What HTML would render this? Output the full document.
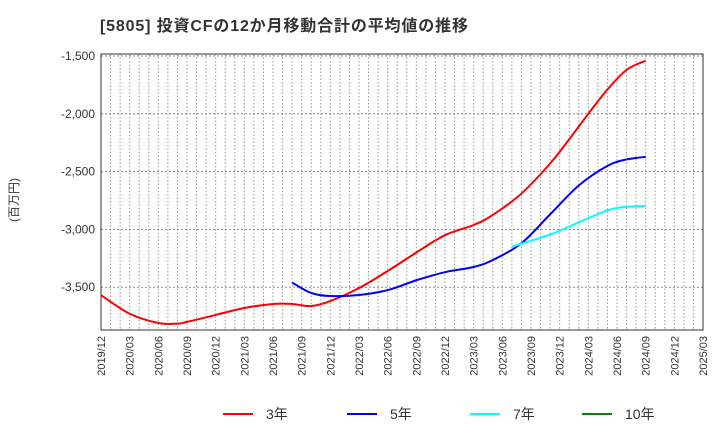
<!DOCTYPE html>
<html><head><meta charset="utf-8"><style>
body{margin:0;background:#fff;font-family:"Liberation Sans","Noto Sans CJK JP",sans-serif}
svg text{font-family:"Liberation Sans","Noto Sans CJK JP",sans-serif}
</style></head><body>
<svg id="c" width="720" height="440" xmlns="http://www.w3.org/2000/svg">
<text x="100" y="31" font-size="16" font-weight="bold" fill="#333" textLength="368" lengthAdjust="spacing">[5805]  投資CFの12か月移動合計の平均値の推移</text>
<text transform="translate(18,200) rotate(-90)" font-size="12" fill="#333" text-anchor="middle">(百万円)</text>
<g id="grid"></g><g id="series"></g><g id="axes"></g>
<g>
<line x1="223" y1="414" x2="253" y2="414" stroke="#f00" stroke-width="2"/><text x="266" y="419" font-size="14" fill="#333">3年</text>
<line x1="347" y1="414" x2="377" y2="414" stroke="#00f" stroke-width="2"/><text x="390" y="419" font-size="14" fill="#333">5年</text>
<line x1="470" y1="414" x2="500" y2="414" stroke="#0ff" stroke-width="2"/><text x="513" y="419" font-size="14" fill="#333">7年</text>
<line x1="582" y1="414" x2="612" y2="414" stroke="#080" stroke-width="2"/><text x="625" y="419" font-size="14" fill="#333">10年</text>
</g>
</svg>
<script>
const xLabels=["2019/12","2020/03","2020/06","2020/09","2020/12","2021/03","2021/06","2021/09","2021/12","2022/03","2022/06","2022/09","2022/12","2023/03","2023/06","2023/09","2023/12","2024/03","2024/06","2024/09","2024/12","2025/03"];
const yTicks=[-1500,-2000,-2500,-3000,-3500];
const m3=[0,3,6,8,9,12,15,18,20,22,24,27,30,33,36,39,41,44,47,49,51,53,55,57];
const v3=[-3569,-3730,-3810,-3815,-3800,-3740,-3680,-3645,-3645,-3663,-3620,-3507,-3360,-3200,-3050,-2962,-2875,-2690,-2430,-2220,-2000,-1790,-1620,-1541];
const m5=[20,22,24,27,30,33,36,39,41,44,47,50,53,55,57];
const v5=[-3460,-3550,-3576,-3567,-3525,-3440,-3370,-3325,-3265,-3120,-2870,-2620,-2450,-2395,-2373];
const m7=[43,47,49,53,55,57];
const v7=[-3150,-3045,-2975,-2835,-2805,-2797];
const L=101,R=703,T=54,B=330;
const X=m=>L+m*(R-L)/63;
const Y=v=>56+(-1500-v)/500*57.8;
const NS="http://www.w3.org/2000/svg";
function mk(t,a,p){const e=document.createElementNS(NS,t);for(const k in a)e.setAttribute(k,a[k]);p.appendChild(e);return e;}
const grid=document.getElementById('grid'),axes=document.getElementById('axes'),ser=document.getElementById('series');
for(let m=1;m<63;m++){const l=mk('line',{x1:X(m),x2:X(m),y1:T,y2:B,stroke:'#999','stroke-dasharray':'1.5,2','stroke-width':1},grid);

}
yTicks.forEach(v=>{const l=mk('line',{x1:L,x2:R,y1:Y(v),y2:Y(v),stroke:'#888','stroke-dasharray':'2,2'},grid);


const t=mk('text',{x:L-6,y:Y(v)+4,'font-size':12,'text-anchor':'end',fill:'#333'},axes);t.textContent=v.toLocaleString('en-US');

});
const box=mk('rect',{x:L,y:T,width:R-L,height:B-T,fill:'none',stroke:'#333'},axes);


xLabels.forEach((s,i)=>{const x=X(i*3);const t=mk('text',{transform:`translate(${x+4},${B+6}) rotate(-90)`,'font-size':11,'text-anchor':'end',fill:'#333'},axes);t.textContent=s;

});
function path(ms,vs){const p=ms.map((m,i)=>[X(m),Y(vs[i])]);let d=`M${p[0][0]},${p[0][1]}`;
for(let i=0;i<p.length-1;i++){const p0=p[i-1]||p[i],p1=p[i],p2=p[i+1],p3=p[i+2]||p2;
d+=`C${p1[0]+(p2[0]-p0[0])/6},${p1[1]+(p2[1]-p0[1])/6} ${p2[0]-(p3[0]-p1[0])/6},${p2[1]-(p3[1]-p1[1])/6} ${p2[0]},${p2[1]}`;}return d;}
[[m3,v3,'#f00','line-3y'],[m5,v5,'#00f','line-5y'],[m7,v7,'#0ff','line-7y']].forEach(s=>{const e=mk('path',{d:path(s[0],s[1]),fill:'none',stroke:s[2],'stroke-width':2},ser);

});
</script>
</body></html>
